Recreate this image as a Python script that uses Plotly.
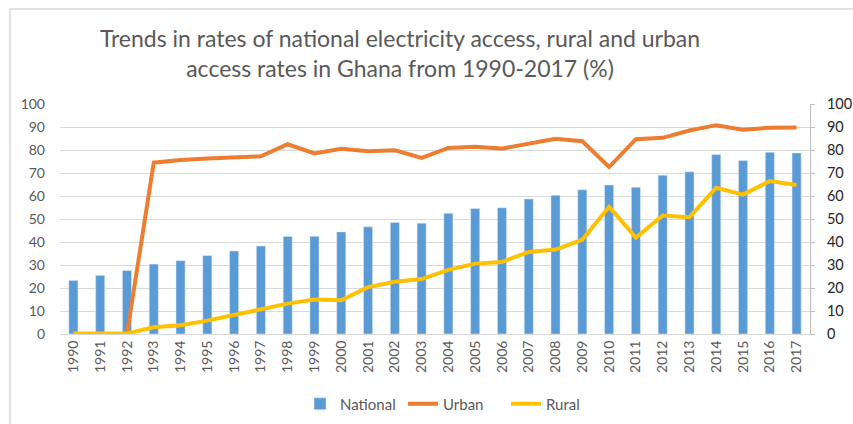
import plotly.graph_objects as go

years = [str(y) for y in range(1990, 2018)]
national = [23.3, 25.5, 27.6, 30.4, 31.9, 34.1, 36.1, 38.3, 42.4, 42.5,
            44.4, 46.6, 48.5, 48.2, 52.5, 54.6, 54.9, 58.7, 60.3, 62.7,
            64.8, 63.8, 69.0, 70.5, 78.0, 75.4, 79.0, 78.7]
urban = [0, 0, 0, 74.5, 75.7, 76.3, 76.8, 77.3, 82.5, 78.5,
         80.5, 79.5, 79.9, 76.6, 80.9, 81.4, 80.6, 82.8, 84.9, 83.8,
         72.6, 84.7, 85.3, 88.5, 90.8, 88.8, 89.7, 89.8]
rural = [0.2, 0.2, 0.2, 2.9, 3.8, 5.8, 8.2, 10.5, 13.2, 15.0,
         14.7, 20.4, 22.7, 23.9, 27.9, 30.6, 31.3, 35.7, 36.7, 41.0,
         55.3, 41.9, 51.5, 50.8, 63.6, 60.6, 66.5, 64.8]
yticks = list(range(0, 101, 10))

FONT = "Lato"
GRAY = "#595959"

fig = go.Figure()
fig.add_trace(go.Bar(x=years, y=national, name="National", marker_color="#5b9bd5"))
fig.add_trace(go.Scatter(x=years, y=urban, name="Urban", mode="lines",
                         line=dict(color="#ed7d31", width=4)))
fig.add_trace(go.Scatter(x=years, y=rural, name="Rural", mode="lines",
                         line=dict(color="#ffc000", width=4)))
# invisible trace for right axis
fig.add_trace(go.Scatter(x=years, y=national, yaxis="y2", mode="lines",
                         line=dict(width=0), showlegend=False, hoverinfo="skip",
                         opacity=0))

L, R, T, B = 60, 810, 104, 334
W, H = 853, 424
pw, ph = R - L, B - T

fig.update_layout(
    width=W, height=H,
    margin=dict(l=L, r=W - R, t=T, b=H - B, autoexpand=False),
    paper_bgcolor="white", plot_bgcolor="white",
    font=dict(family=FONT, color=GRAY),
    title=dict(text="Trends in rates of national electricity access, rural and urban<br>access rates in Ghana from 1990-2017 (%)",
               x=(400 - L) / pw, xref="paper", xanchor="center", y=1 - 47 / H, yanchor="middle",
               font=dict(family=FONT, size=23, color=GRAY)),
    bargap=0.66,
    xaxis=dict(type="category", tickangle=-90, tickfont=dict(size=14, color=GRAY),
               showline=True, linecolor="#d9d9d9", linewidth=1, ticks="",
               showgrid=False, automargin=False),
    yaxis=dict(range=[0, 100], tickvals=yticks, showgrid=True, gridcolor="#d9d9d9",
               gridwidth=1, zeroline=False, tickfont=dict(size=14, color=GRAY),
               ticks="", ticklabelstandoff=14, showline=False, automargin=False),
    yaxis2=dict(range=[0, 100], tickvals=yticks, overlaying="y", side="right",
                showgrid=False, zeroline=False, showline=True, linecolor="#bfbfbf",
                ticks="outside", ticklen=4, tickcolor="#bfbfbf", ticklabelstandoff=9,
                tickfont=dict(size=14.5, color="#262626"), automargin=False),
    legend=dict(orientation="h", x=(300 - L) / pw, xanchor="left",
                yref="container", y=(H - 404) / H, yanchor="middle",
                entrywidth=58, font=dict(size=15, color=GRAY)),
    shapes=[dict(type="rect", xref="paper", yref="paper",
                 x0=(10 - L) / pw, x1=(870 - L) / pw,
                 y0=(B - 440) / ph, y1=(B - 9) / ph,
                 line=dict(color="#d9d9d9", width=1.5), layer="below")],
)
fig.write_html("out.html")
